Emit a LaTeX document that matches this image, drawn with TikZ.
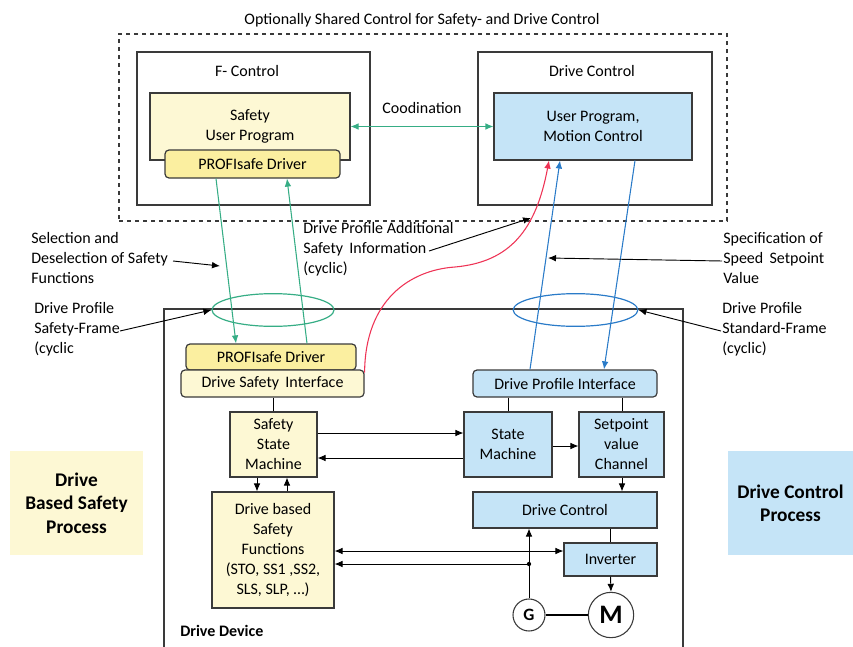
\documentclass[tikz,border=0pt]{standalone}
\usepackage{fontspec}
\setmainfont{Carlito}
\usetikzlibrary{arrows.meta,shapes.geometric,fit,calc}

\definecolor{lyel}{HTML}{FDF8D4}
\definecolor{dyel}{HTML}{FBEFA0}
\definecolor{lblue}{HTML}{C5E4F7}
\definecolor{sgreen}{HTML}{36AD85}
\definecolor{sblue}{HTML}{2A7BC8}
\definecolor{sred}{HTML}{EE3355}
\definecolor{edgec}{HTML}{3A3A3A}

\tikzset{
  txt/.style={font=\fontsize{12}{15}\selectfont, align=center},
  frame/.style={draw=edgec, line width=0.8pt, inner sep=0pt},
  ybox/.style={frame, fill=lyel},
  bbox/.style={frame, fill=lblue},
  rybox/.style={ybox, rounded corners=3pt, line width=0.9pt},
  rdbox/.style={rybox, fill=dyel},
  rbbox/.style={bbox, rounded corners=3pt, line width=0.9pt},
  inside/.style={label={[txt, inner sep=0pt]center:{#1}}},
  proctxt/.style={inner sep=0pt, align=center, font=\fontsize{14.5}{17.5}\selectfont\bfseries},
  note/.style={txt, align=left, anchor=north west, inner sep=0pt},
  tip/.style={-{Latex[length=6pt,width=5pt]}},
  tips/.style={{Latex[length=6pt,width=5pt]}-{Latex[length=6pt,width=5pt]}},
  link/.style={draw=black, line width=0.7pt},
  ring/.style={ellipse, draw, line width=0.9pt, inner sep=0pt},
  wheel/.style={circle, draw=edgec, line width=0.8pt, fill=white, inner sep=0pt},
}

\begin{document}
\begin{tikzpicture}[x=0.75pt, y=-0.75pt]
\useasboundingbox (0,0) rectangle (853,646);

% ---------- controller level ----------
\node[txt] (title) at (422,20) {Optionally Shared Control for Safety- and Drive Control};
\node[frame, dashed, fit={(119,34)(727,221)}] (shared) {};

\node[frame, fit={(137,52)(370,205)}] (fctrl) {};
\node[txt] (fctrllbl) at (247,71) {F- Control};
\node[ybox, fit={(150,93)(350,160)}, inside={Safety\\User Program}] (sup) {};
\node[rdbox, fit={(165,150)(340,178)}, inside={PROFIsafe Driver}] (pdrvA) {};

\node[frame, fit={(478,52)(712,205)}] (dctrl) {};
\node[txt] (dctrllbl) at (592,71) {Drive Control};
\node[bbox, fit={(494,93)(692,160)}, inside={User Program,\\Motion Control}] (ump) {};

\draw[tips, sgreen, line width=0.8pt] (sup.east) -- (ump.west)
  node[midway, above=6pt, txt, text=black] (coord) {Coodination};

% ---------- drive device ----------
\draw[line width=0.8pt, edgec] (164,650) -- (164,309) -- (683,309) -- (683,650);
\node[font=\fontsize{12}{15}\selectfont\bfseries, anchor=west, inner sep=0pt] (devlbl) at (180,631) {Drive Device};

\node[rdbox, fit={(186,344)(356,370)}, inside={PROFIsafe Driver}] (pdrvB) {};
\node[rybox, fit={(181,370)(364,397)}, inside={Drive Safety\, Interface}] (dsi) {};
\node[rbbox, fit={(473,370)(657,397)}, inside={Drive Profile Interface}] (dpi) {};

\node[ybox, fit={(230,412)(317,477)}, inside={Safety\\State\\Machine}] (ssm) {};
\node[bbox, fit={(464,412)(552,477)}, inside={State\\Machine}] (sm) {};
\node[bbox, fit={(579,412)(664,477)}, inside={Setpoint\\value\\Channel}] (svc) {};
\node[bbox, fit={(473,492)(657,528)}, inside={Drive Control}] (dc) {};
\node[bbox, fit={(564,543)(657,576)}, inside={Inverter}] (inv) {};
\node[ybox, fit={(212,492)(334,608)},
  inside={Drive based\\Safety\\Functions\\(STO, SS1 ,SS2,\\SLS, SLP, \dots)}] (dbsf) {};

\node[wheel, minimum size=24pt, font=\fontsize{13}{15}\selectfont\bfseries] (G) at (529,615) {G};
\node[wheel, minimum size=34pt, font=\fontsize{20}{22}\selectfont\bfseries] (M) at (611,615) {M};
\draw[line width=2.2pt] (G.east) -- (M.west);

% ---------- side process labels ----------
\node[inner sep=0pt, fill=lyel, fit={(10,451)(143,555)}] (pleft) {};
\node[proctxt] (pleftlbl) at (pleft.center) {Drive\\Based Safety\\Process};
\node[inner sep=0pt, fill=lblue, fit={(728,451)(853,555)}] (pright) {};
\node[proctxt] (prightlbl) at (pright.center) {Drive Control\\Process};

% ---------- telegram frames ----------
\node[ring, draw=sgreen, minimum width=91.5pt, minimum height=24.5pt] (sframe) at (273,310) {};
\node[ring, draw=sblue, minimum width=93.5pt, minimum height=24.5pt] (dframe) at (575.5,310) {};

% ---------- communication paths ----------
\draw[tip, sgreen, line width=0.8pt] (pdrvA.south -| 216,0) -- (pdrvB.north -| 236,0);
\draw[tip, sgreen, line width=0.8pt] (pdrvB.north -| 307,0) -- (pdrvA.south -| 287,0);
\draw[tip, sred, line width=0.8pt] ([yshift=-2.5pt]dsi.north east)
  .. controls (365,300) and (410,270) .. (455,267)
  .. controls (510,262) and (536,230) .. (ump.south -| 549,0);
\draw[tip, sblue, line width=0.8pt] (dpi.north -| 530,0) -- (ump.south -| 560,0);
\draw[tip, sblue, line width=0.8pt] (ump.south -| 635,0) -- (dpi.north -| 604,0);

% ---------- annotations ----------
\node[note] (selnote) at (31,232) {Selection and\\Deselection of Safety\\Functions};
\node[note] (sfnote) at (34,302) {Drive Profile\\Safety-Frame\\(cyclic};
\node[note] (addnote) at (303,222) {Drive Profile Additional\\Safety\, Information\\(cyclic)};
\node[note] (spnote) at (723,232) {Specification of\\Speed\, Setpoint\\Value};
\node[note] (stnote) at (722,302) {Drive Profile\\Standard-Frame\\(cyclic)};

\coordinate (selto) at (220,266);
\draw[tip, link] (173,261) -- (selto);
\draw[tip, link] (120,331) -- (sframe.west);
\coordinate (addto) at (531,218);
\draw[tip, link] (429,251) -- (addto);
\coordinate (spto) at (548,258);
\draw[tip, link] (722,261) -- (spto);
\draw[tip, link] (721,331) -- (dframe.east);

% ---------- internal signal flow ----------
\draw[link] (dsi.south -| ssm.north) -- (ssm.north);
\draw[link] (dpi.south -| sm.north) -- (sm.north);
\draw[link] (dpi.south -| 622,0) -- (svc.north -| 622,0);

\draw[tip, link] (ssm.east |- 0,433) -- (sm.west |- 0,433);
\draw[tip, link] (sm.west |- 0,458) -- (ssm.east |- 0,458);
\draw[tip, link] (sm.east |- 0,446) -- (svc.west |- 0,446);
\draw[tip, link] (svc.south -| 622,0) -- (dc.north -| 622,0);

\draw[tip, link] (ssm.south -| 257,0) -- (dbsf.north -| 257,0);
\draw[tip, link] (dbsf.north -| 287,0) -- (ssm.south -| 287,0);

\draw[link] (dc.south -| inv.north) -- (inv.north);
\draw[tip, link] (inv.south) -- (M.north);
\draw[tip, link] (G.north) -- (dc.south -| G.north);

\coordinate (tap) at (G.north |- 0,564);
\fill (tap) circle (1.6pt);
\draw[tips, link] (dbsf.east |- 0,551) -- (inv.west |- 0,551);
\draw[tip, link] (tap) -- (dbsf.east |- tap);

\end{tikzpicture}
\end{document}
